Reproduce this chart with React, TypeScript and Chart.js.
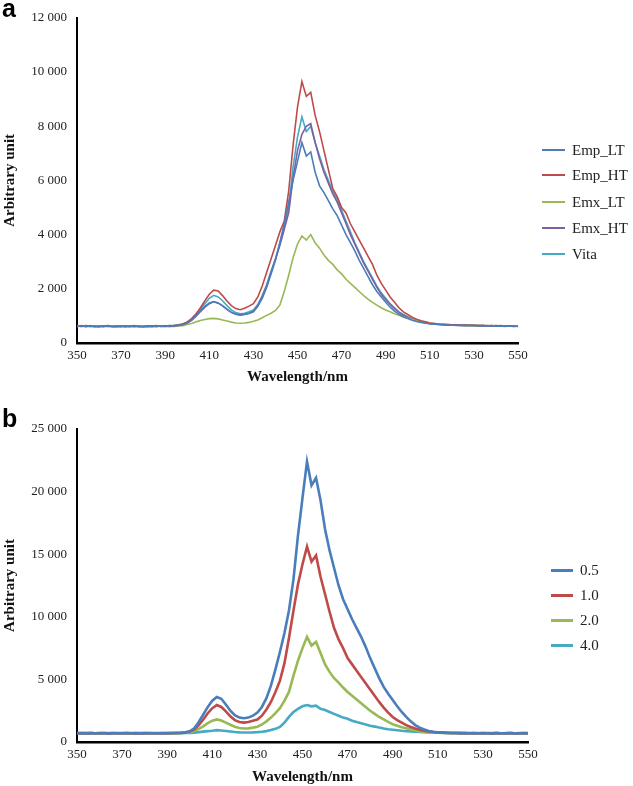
import React, { useEffect, useRef } from "react";
import { Chart, registerables } from "chart.js";
Chart.register(...registerables);

// Wavelength axis (nm)
const wavelengths = [
  350, 352, 354, 356, 358, 360, 362, 364, 366, 368,
  370, 372, 374, 376, 378, 380, 382, 384, 386, 388,
  390, 392, 394, 396, 398, 400, 402, 404, 406, 408,
  410, 412, 414, 416, 418, 420, 422, 424, 426, 428,
  430, 432, 434, 436, 438, 440, 442, 444, 446, 448,
  450, 452, 454, 456, 458, 460, 462, 464, 466, 468,
  470, 472, 474, 476, 478, 480, 482, 484, 486, 488,
  490, 492, 494, 496, 498, 500, 502, 504, 506, 508,
  510, 512, 514, 516, 518, 520, 522, 524, 526, 528,
  530, 532, 534, 536, 538, 540, 542, 544, 546, 548,
  550,
];

const xTicks = [350, 370, 390, 410, 430, 450, 470, 490, 510, 530, 550];

// ---- Panel a ----
const labelsA = ["Emp_LT", "Emp_HT", "Emx_LT", "Emx_HT", "Vita"];
const colorsA = ["#4A7EBB", "#BE4B48", "#98B954", "#7D60A0", "#46AAC5"];

const empLT = [
  620, 640, 610, 630, 600, 625, 615, 640, 605, 620,
  610, 630, 600, 615, 625, 605, 620, 610, 635, 615,
  620, 640, 630, 650, 670, 740, 850, 1000, 1180, 1350,
  1480, 1530, 1480, 1380, 1250, 1130, 1060, 1030, 1050, 1090,
  1150, 1350, 1650, 2050, 2550, 3050, 3700, 4400, 5200, 6000,
  6700, 7400, 6900, 7050, 6300, 5800, 5550, 5250, 4950, 4700,
  4350, 4000, 3700, 3400, 3050, 2750, 2450, 2150, 1900, 1700,
  1500, 1320, 1180, 1060, 970, 900, 840, 790, 760, 730,
  710, 690, 680, 670, 660, 665, 650, 655, 640, 650,
  645, 630, 640, 625, 635, 620, 630, 615, 625, 620,
  610,
];
const empHT = [
  630, 610, 640, 620, 615, 600, 635, 620, 610, 625,
  630, 605, 620, 640, 610, 600, 625, 615, 640, 620,
  630, 615, 640, 660, 700, 780, 900, 1080, 1300, 1560,
  1800, 1950, 1920, 1750, 1550, 1380, 1270, 1230, 1280, 1360,
  1450, 1700, 2100, 2600, 3100, 3600, 4100, 4500, 5600, 7300,
  8700, 9650, 9100, 9250, 8400, 7800, 7100, 6400, 5700, 5400,
  5000, 4800, 4400, 4100, 3800, 3500, 3200, 2900, 2500, 2200,
  1950, 1700, 1500, 1300, 1150, 1050, 950, 880, 820, 780,
  740, 720, 700, 690, 680, 670, 675, 660, 665, 650,
  655, 640, 650, 635, 645, 630, 640, 625, 635, 630,
  620,
];
const emxLT = [
  610, 630, 620, 600, 625, 615, 630, 605, 620, 610,
  625, 600, 615, 630, 605, 620, 610, 600, 625, 615,
  610, 620, 615, 630, 640, 680, 720, 780, 830, 870,
  900, 910, 890, 850, 810, 770, 740, 730, 740, 760,
  800, 850, 930, 1020, 1100, 1200, 1400, 1900, 2500, 3150,
  3650, 3950, 3800, 4000, 3700, 3500, 3250, 3050, 2900, 2700,
  2550, 2350, 2200, 2050, 1900, 1750, 1620, 1500, 1400, 1300,
  1220, 1150, 1080, 1020, 960, 910, 870, 840, 800, 770,
  740, 720, 700, 690, 680, 670, 660, 665, 650, 655,
  640, 650, 635, 645, 630, 640, 625, 635, 620, 630,
  620,
];
const emxHT = [
  615, 625, 605, 640, 610, 620, 600, 630, 615, 605,
  620, 610, 635, 600, 620, 615, 605, 630, 610, 625,
  615, 630, 625, 655, 680, 740, 840, 990, 1160, 1320,
  1450, 1520, 1470, 1370, 1240, 1130, 1070, 1040, 1060, 1100,
  1170, 1380, 1700, 2100, 2600, 3100, 3600, 4200, 4800, 6100,
  7100, 7700, 8000, 8100, 7400, 6800, 6300, 5900, 5500, 5200,
  4800, 4400, 4000, 3650, 3300, 2950, 2650, 2350, 2050, 1800,
  1600, 1420, 1270, 1130, 1030, 950, 880, 820, 780, 745,
  715, 700, 685, 675, 670, 660, 665, 650, 655, 645,
  650, 635, 645, 630, 640, 625, 635, 620, 630, 615,
  625,
];
const vita = [
  625, 610, 635, 615, 630, 605, 620, 640, 610, 620,
  605, 625, 615, 630, 600, 620, 635, 615, 605, 630,
  625, 640, 650, 670, 700, 770, 880, 1050, 1250, 1450,
  1650, 1760, 1700, 1560, 1380, 1220, 1120, 1080, 1100, 1150,
  1220, 1420, 1750, 2150, 2650, 3100, 3700, 4300, 5000, 6500,
  7600, 8350, 7800, 8000, 7400, 6900, 6400, 6000, 5600, 5300,
  4900, 4500, 4100, 3700, 3350, 3000, 2700, 2400, 2100, 1850,
  1650, 1450, 1300, 1150, 1050, 960, 890, 830, 790, 750,
  720, 700, 690, 680, 670, 665, 660, 650, 660, 645,
  640, 650, 630, 645, 625, 640, 630, 620, 635, 615,
  625,
];

// ---- Panel b ----
const labelsB = ["0.5", "1.0", "2.0", "4.0"];
const colorsB = ["#4A7EBB", "#BE4B48", "#98B954", "#46AAC5"];

const conc05 = [
  700, 710, 690, 705, 695, 710, 700, 690, 705, 700,
  710, 695, 700, 715, 690, 705, 700, 695, 710, 700,
  705, 715, 720, 740, 780, 850, 1100, 1600, 2200, 2800,
  3300, 3600, 3450, 3000, 2500, 2150, 1950, 1900, 1950, 2100,
  2350, 2800, 3500, 4500, 5800, 7200, 8700, 10500, 13000, 16500,
  19500, 22400, 20500, 21100, 19300, 17000, 15300, 13900, 12500, 11400,
  10600, 9800, 9100, 8400, 7600, 6700, 5900, 5100, 4400, 3850,
  3350, 2850, 2400, 2000, 1650, 1350, 1150, 1000, 880, 810,
  770, 750, 730, 720, 715, 705, 710, 700, 705, 695,
  700, 710, 690, 705, 695, 700, 710, 690, 700, 705,
  695,
];
const conc10 = [
  690, 705, 700, 710, 695, 700, 715, 690, 700, 710,
  695, 705, 700, 690, 710, 700, 705, 695, 700, 715,
  700, 710, 715, 730, 760, 830, 1000, 1350, 1800, 2300,
  2700, 2950, 2800, 2450, 2050, 1750, 1600, 1550, 1600, 1700,
  1800, 2100, 2600, 3200, 4000, 4900, 6300, 8300, 10500, 12600,
  14200, 15600, 14400, 14900, 13200, 11800, 10400, 9100, 8200, 7500,
  6700, 6200, 5700, 5200, 4700, 4200, 3700, 3200, 2750, 2350,
  2000, 1750, 1550, 1350, 1200, 1080, 980, 900, 840, 800,
  770, 750, 735, 720, 715, 705, 700, 710, 700, 695,
  705, 700, 690, 710, 700, 695, 705, 700, 690, 700,
  705,
];
const conc20 = [
  705, 695, 710, 700, 690, 705, 700, 710, 695, 700,
  700, 710, 690, 705, 700, 695, 710, 700, 690, 705,
  700, 705, 710, 720, 740, 780, 880, 1050, 1250, 1500,
  1700, 1800, 1720, 1550, 1380, 1220, 1120, 1080, 1090, 1150,
  1220, 1400, 1650, 1950, 2300, 2700, 3300, 4000, 5300, 6500,
  7500, 8400, 7700, 8000, 7100, 6200, 5600, 5100, 4750, 4350,
  4000, 3700, 3400, 3100, 2800, 2500, 2250, 2000, 1800, 1600,
  1420, 1300, 1180, 1100, 1000, 920, 860, 810, 780, 760,
  740, 730, 720, 710, 705, 700, 710, 695, 700, 705,
  695, 700, 710, 690, 700, 705, 695, 700, 710, 695,
  700,
];
const conc40 = [
  700, 690, 705, 710, 695, 700, 705, 690, 710, 700,
  695, 705, 710, 700, 690, 705, 700, 710, 695, 700,
  705, 700, 710, 705, 715, 720, 750, 790, 830, 870,
  900, 950, 920, 880, 840, 800, 770, 760, 760, 770,
  790, 820, 870, 950, 1050, 1200, 1550, 2000, 2400, 2650,
  2850, 2950, 2850, 2900, 2650, 2550, 2400, 2250, 2100, 1950,
  1850, 1700, 1600, 1500, 1400, 1300, 1230, 1150, 1080, 1020,
  980, 940, 900, 870, 840, 820, 800, 780, 770, 760,
  750, 740, 730, 720, 715, 710, 705, 700, 710, 700,
  705, 695, 700, 710, 700, 690, 705, 700, 695, 705,
  700,
];

const seriesA = [empLT, empHT, emxLT, emxHT, vita];
const seriesB = [conc05, conc10, conc20, conc40];

const SERIF = "'Liberation Serif', 'DejaVu Serif', serif";

function fmtThousands(v: number) {
  return String(v).replace(/\B(?=(\d{3})+(?!\d))/g, " ");
}

type PanelProps = {
  top: number;
  height: number;
  padTop: number;
  padRight: number;
  xAxisH: number;
  titleBottomPad: number;
  yMax: number;
  yStep: number;
  labels: string[];
  colors: string[];
  series: number[][];
  lineWidth: number;
};

function Panel(p: PanelProps) {
  const ref = useRef<HTMLCanvasElement | null>(null);
  useEffect(() => {
    if (!ref.current) return;
    const chart = new Chart(ref.current, {
      type: "line",
      data: {
        datasets: p.series.map((arr, k) => ({
          label: p.labels[k],
          data: wavelengths.map((x, i) => ({ x, y: arr[i] })),
          borderColor: p.colors[k],
          backgroundColor: p.colors[k],
          borderWidth: p.lineWidth,
          pointRadius: 0,
          tension: 0,
          fill: false,
        })),
      },
      options: {
        animation: false,
        responsive: false,
        maintainAspectRatio: false,
        layout: { padding: { left: 0, right: p.padRight, top: p.padTop, bottom: 0 } },
        plugins: { legend: { display: false }, tooltip: { enabled: false } },
        scales: {
          x: {
            type: "linear",
            min: 350,
            max: 550,
            afterBuildTicks: (s: any) => {
              s.ticks = xTicks.map((v) => ({ value: v }));
            },
            ticks: {
              color: "#222",
              font: { family: SERIF, size: 13 },
              padding: 5,
              maxRotation: 0,
              autoSkip: false,
            },
            grid: { display: false, drawTicks: false },
            border: { display: true, color: "#000", width: 2.5 },
            title: {
              display: true,
              text: "Wavelength/nm",
              color: "#111",
              font: { family: SERIF, size: 15, weight: "bold" },
              padding: { top: 0, bottom: p.titleBottomPad },
            },
            afterFit: (s: any) => {
              s.height = p.xAxisH;
            },
          },
          y: {
            type: "linear",
            min: 0,
            max: p.yMax,
            ticks: {
              stepSize: p.yStep,
              color: "#222",
              font: { family: SERIF, size: 13 },
              padding: 10,
              callback: (v: any) => fmtThousands(Number(v)),
            },
            grid: { display: false, drawTicks: false },
            border: { display: true, color: "#000", width: 2 },
            title: {
              display: true,
              text: "Arbitrary unit",
              color: "#111",
              font: { family: SERIF, size: 15, weight: "bold" },
              padding: { top: 1, bottom: 0 },
            },
            afterFit: (s: any) => {
              s.width = 77;
            },
          },
        },
      } as any,
    });
    return () => chart.destroy();
  }, []);
  return (
    <canvas
      ref={ref}
      width={633}
      height={p.height}
      style={{ position: "absolute", left: 0, top: p.top, width: 633, height: p.height, display: "block" }}
    />
  );
}

function Legend(props: {
  labels: string[];
  colors: string[];
  x: number;
  rows: number[];
  swW: number;
  swH: number;
  gap: number;
}) {
  return (
    <>
      {props.labels.map((lab, i) => (
        <div
          key={lab}
          style={{
            position: "absolute",
            left: props.x,
            top: props.rows[i] - 10,
            height: 20,
            display: "flex",
            alignItems: "center",
            fontFamily: SERIF,
            fontSize: 15,
            color: "#222",
            whiteSpace: "nowrap",
          }}
        >
          <div style={{ width: props.swW, height: props.swH, background: props.colors[i], marginRight: props.gap }} />
          <span style={{ lineHeight: "20px" }}>{lab}</span>
        </div>
      ))}
    </>
  );
}

export default function App() {
  return (
    <div
      style={{
        position: "absolute",
        left: 0,
        top: 0,
        width: 633,
        height: 786,
        overflow: "hidden",
        background: "#fff",
      }}
    >
      <Panel
        top={0}
        height={388}
        padTop={16}
        padRight={115}
        xAxisH={45}
        titleBottomPad={2}
        yMax={12000}
        yStep={2000}
        labels={labelsA}
        colors={colorsA}
        series={seriesA}
        lineWidth={1.6}
      />
      <Panel
        top={388}
        height={398}
        padTop={41}
        padRight={105}
        xAxisH={44}
        titleBottomPad={0}
        yMax={25000}
        yStep={5000}
        labels={labelsB}
        colors={colorsB}
        series={seriesB}
        lineWidth={2.6}
      />
      <Legend labels={labelsA} colors={colorsA} x={542} rows={[150, 175, 202, 228, 254]} swW={23} swH={2} gap={7} />
      <Legend labels={labelsB} colors={colorsB} x={551} rows={[570, 595, 620, 645]} swW={22} swH={3} gap={7} />
      <div
        style={{
          position: "absolute",
          left: 2,
          top: -4,
          fontFamily: "'Liberation Sans', Arial, sans-serif",
          fontWeight: "bold",
          fontSize: 25,
          lineHeight: "25px",
          color: "#000",
        }}
      >
        a
      </div>
      <div
        style={{
          position: "absolute",
          left: 2,
          top: 406,
          fontFamily: "'Liberation Sans', Arial, sans-serif",
          fontWeight: "bold",
          fontSize: 25,
          lineHeight: "25px",
          color: "#000",
        }}
      >
        b
      </div>
    </div>
  );
}
